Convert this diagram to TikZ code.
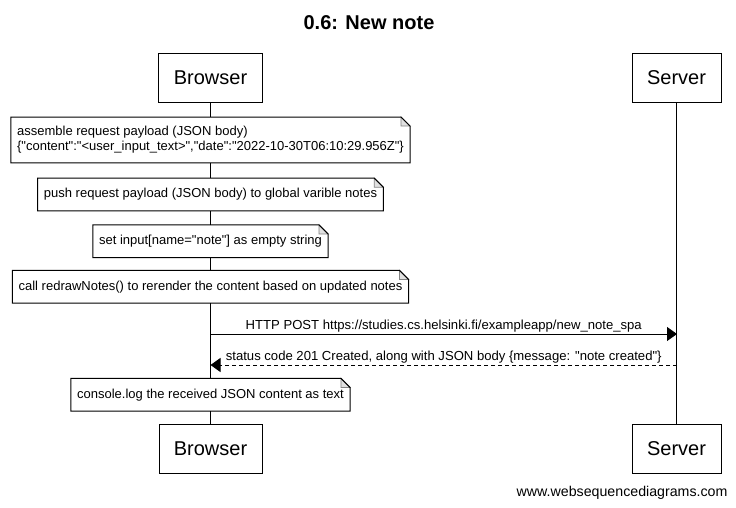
\documentclass[tikz,border=0pt]{standalone}
\usepackage{fontspec}
\setmainfont{Liberation Sans}[Ligatures=TeXOff]
\usetikzlibrary{arrows.meta}
\definecolor{foldgray}{RGB}{225,225,225}
\definecolor{foldline}{RGB}{130,130,130}
\begin{document}
\begin{tikzpicture}[x=1pt,y=-1pt,
  actor/.style={draw, line width=1pt, fill=white, minimum height=49pt, inner sep=0pt, font=\fontsize{20}{24}\selectfont},
  note/.style={fill=white, inner xsep=6pt, inner ysep=10pt, text height=9.5pt, text depth=2.8pt, font=\fontsize{13}{15}\selectfont},
  notetwo/.style={fill=white, inner xsep=6pt, inner ysep=0pt, minimum height=45.5pt, align=left, font=\fontsize{13}{15}\selectfont},
  notepath/.style={line width=1pt, line join=miter},
  foldpath/.style={line width=0.8pt, draw=foldline, fill=foldgray},
  lifeline/.style={line width=1pt},
  msg/.style={line width=1pt, -{Triangle[length=10pt,width=14pt]}},
  reply/.style={msg, dash pattern=on 4pt off 3pt},
  lbl/.style={font=\fontsize{13.1}{15}\selectfont, above, inner sep=1.5pt},
]
\useasboundingbox (0,0) rectangle (736,507);
\node[font=\bfseries\fontsize{20}{24}\selectfont, anchor=base] (title) at (369,29.5) {0.6: New note};
\node[actor, minimum width=104pt] (bt) at (210.5,77.5) {Browser};
\node[actor, minimum width=89pt] (st) at (676.5,77.5) {Server};
\node[actor, minimum width=103pt] (bb) at (210.5,448.8) {Browser};
\node[actor, minimum width=89pt] (sb) at (676.5,448.8) {Server};
\draw[lifeline] (bt.south) -- (bb.north);
\draw[lifeline] (st.south) -- (sb.north);

\node[notetwo] (n1) at (210.5,140) {assemble request payload (JSON body)\\\{"content":"<user\_input\_text>","date":"2022-10-30T06:10:29.956Z"\}};
\node[note] (n2) at (210.5,194.5) {push request payload (JSON body) to global varible notes};
\node[note] (n3) at (210.5,241.3) {set input[name="note"] as empty string};
\node[note] (n4) at (210.5,286.8) {call redrawNotes() to rerender the content based on updated notes};
\node[note] (n5) at (210.5,394.8) {console.log the received JSON content as text};

\foreach \n in {n1,n2,n3,n4,n5}{
  \draw[foldpath] ([xshift=-9pt]\n.north east) -- ([xshift=-9pt,yshift=-9pt]\n.north east) -- ([yshift=-9pt]\n.north east) -- cycle;
  \draw[notepath] (\n.north west) -- ([xshift=-9pt]\n.north east) -- ([yshift=-9pt]\n.north east) -- (\n.south east) -- (\n.south west) -- cycle;
}

\coordinate (m1b) at (210.5,334);
\coordinate (m1s) at (677,334);
\coordinate (m2b) at (210.5,365);
\coordinate (m2s) at (677,365);
\draw[msg] (m1b) -- node[lbl] {HTTP POST https://studies.cs.helsinki.fi/exampleapp/new\_note\_spa} (m1s);
\draw[reply] (m2s) -- node[lbl] {status code 201 Created, along with JSON body \{message: "note created"\}} (m2b);

\node[anchor=base east, font=\fontsize{14.2}{16}\selectfont] (footer) at (731,496.5) {www.websequencediagrams.com};
\end{tikzpicture}
\end{document}
